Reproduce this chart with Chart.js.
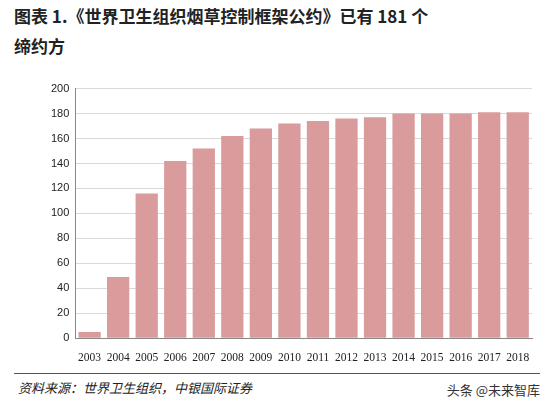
<!DOCTYPE html>
<html lang="zh">
<head>
<meta charset="UTF-8">
<script src="https://cdn.jsdelivr.net/npm/chart.js"></script>
<style>
    body { margin: 0; width: 554px; height: 408px; background: #fff; position: relative; overflow: hidden; font-family: "Noto Sans CJK SC", sans-serif; }
    #titulo { position: absolute; left: 14px; top: 1px; font-size: 17px; font-weight: bold; line-height: 30px; color: #222; }
    #area { position: absolute; left: 0; top: 76px; width: 554px; height: 294px; }
    #linha { position: absolute; left: 14px; top: 373px; width: 526px; border-top: 1px solid #555; }
    #fonte { position: absolute; left: 18px; top: 378px; font-size: 13px; font-style: italic; color: #222; }
    #marca { position: absolute; right: 14px; top: 380px; font-size: 13px; color: #333; }
</style>
</head>
<body>
<div id="titulo">图表 1.《世界卫生组织烟草控制框架公约》已有 181 个<br>缔约方</div>
<div id="area"><canvas id="grafico"></canvas></div>
<div id="linha"></div>
<div id="fonte">资料来源：世界卫生组织，中银国际证券</div>
<div id="marca">头条 @未来智库</div>
<script>
    // dados
    const anos = ['2003','2004','2005','2006','2007','2008','2009','2010','2011','2012','2013','2014','2015','2016','2017','2018'];
    const partes = [5, 49, 116, 142, 152, 162, 168, 172, 174, 176, 177, 180, 180, 180, 181, 181];
    const ticksY = [0, 20, 40, 60, 80, 100, 120, 140, 160, 180, 200];

    new Chart(document.getElementById('grafico'), {
        type: 'bar',
        data: {
            labels: anos,
            datasets: [{
                data: partes,
                backgroundColor: '#d99b9b',
                categoryPercentage: 1,
                barPercentage: 0.78
            }]
        },
        options: {
            responsive: true,
            maintainAspectRatio: false,
            animation: false,
            layout: { padding: { left: 45, right: 22, top: 6, bottom: 0 } },
            plugins: { legend: { display: false }, tooltip: { enabled: false } },
            scales: {
                x: {
                    grid: { display: false },
                    border: { color: '#888' },
                    ticks: { color: '#222', font: { family: 'Liberation Serif', size: 11.5 }, maxRotation: 0, autoSkip: false, padding: 5 }
                },
                y: {
                    min: 0, max: 200,
                    afterBuildTicks: (ax) => { ax.ticks = ticksY.map(v => ({ value: v })); },
                    grid: { color: '#d9d9d9', drawTicks: false },
                    border: { color: '#888' },
                    ticks: { color: '#222', font: { family: 'Liberation Sans', size: 11 }, padding: 6 }
                }
            }
        }
    });
</script>
</body>
</html>
